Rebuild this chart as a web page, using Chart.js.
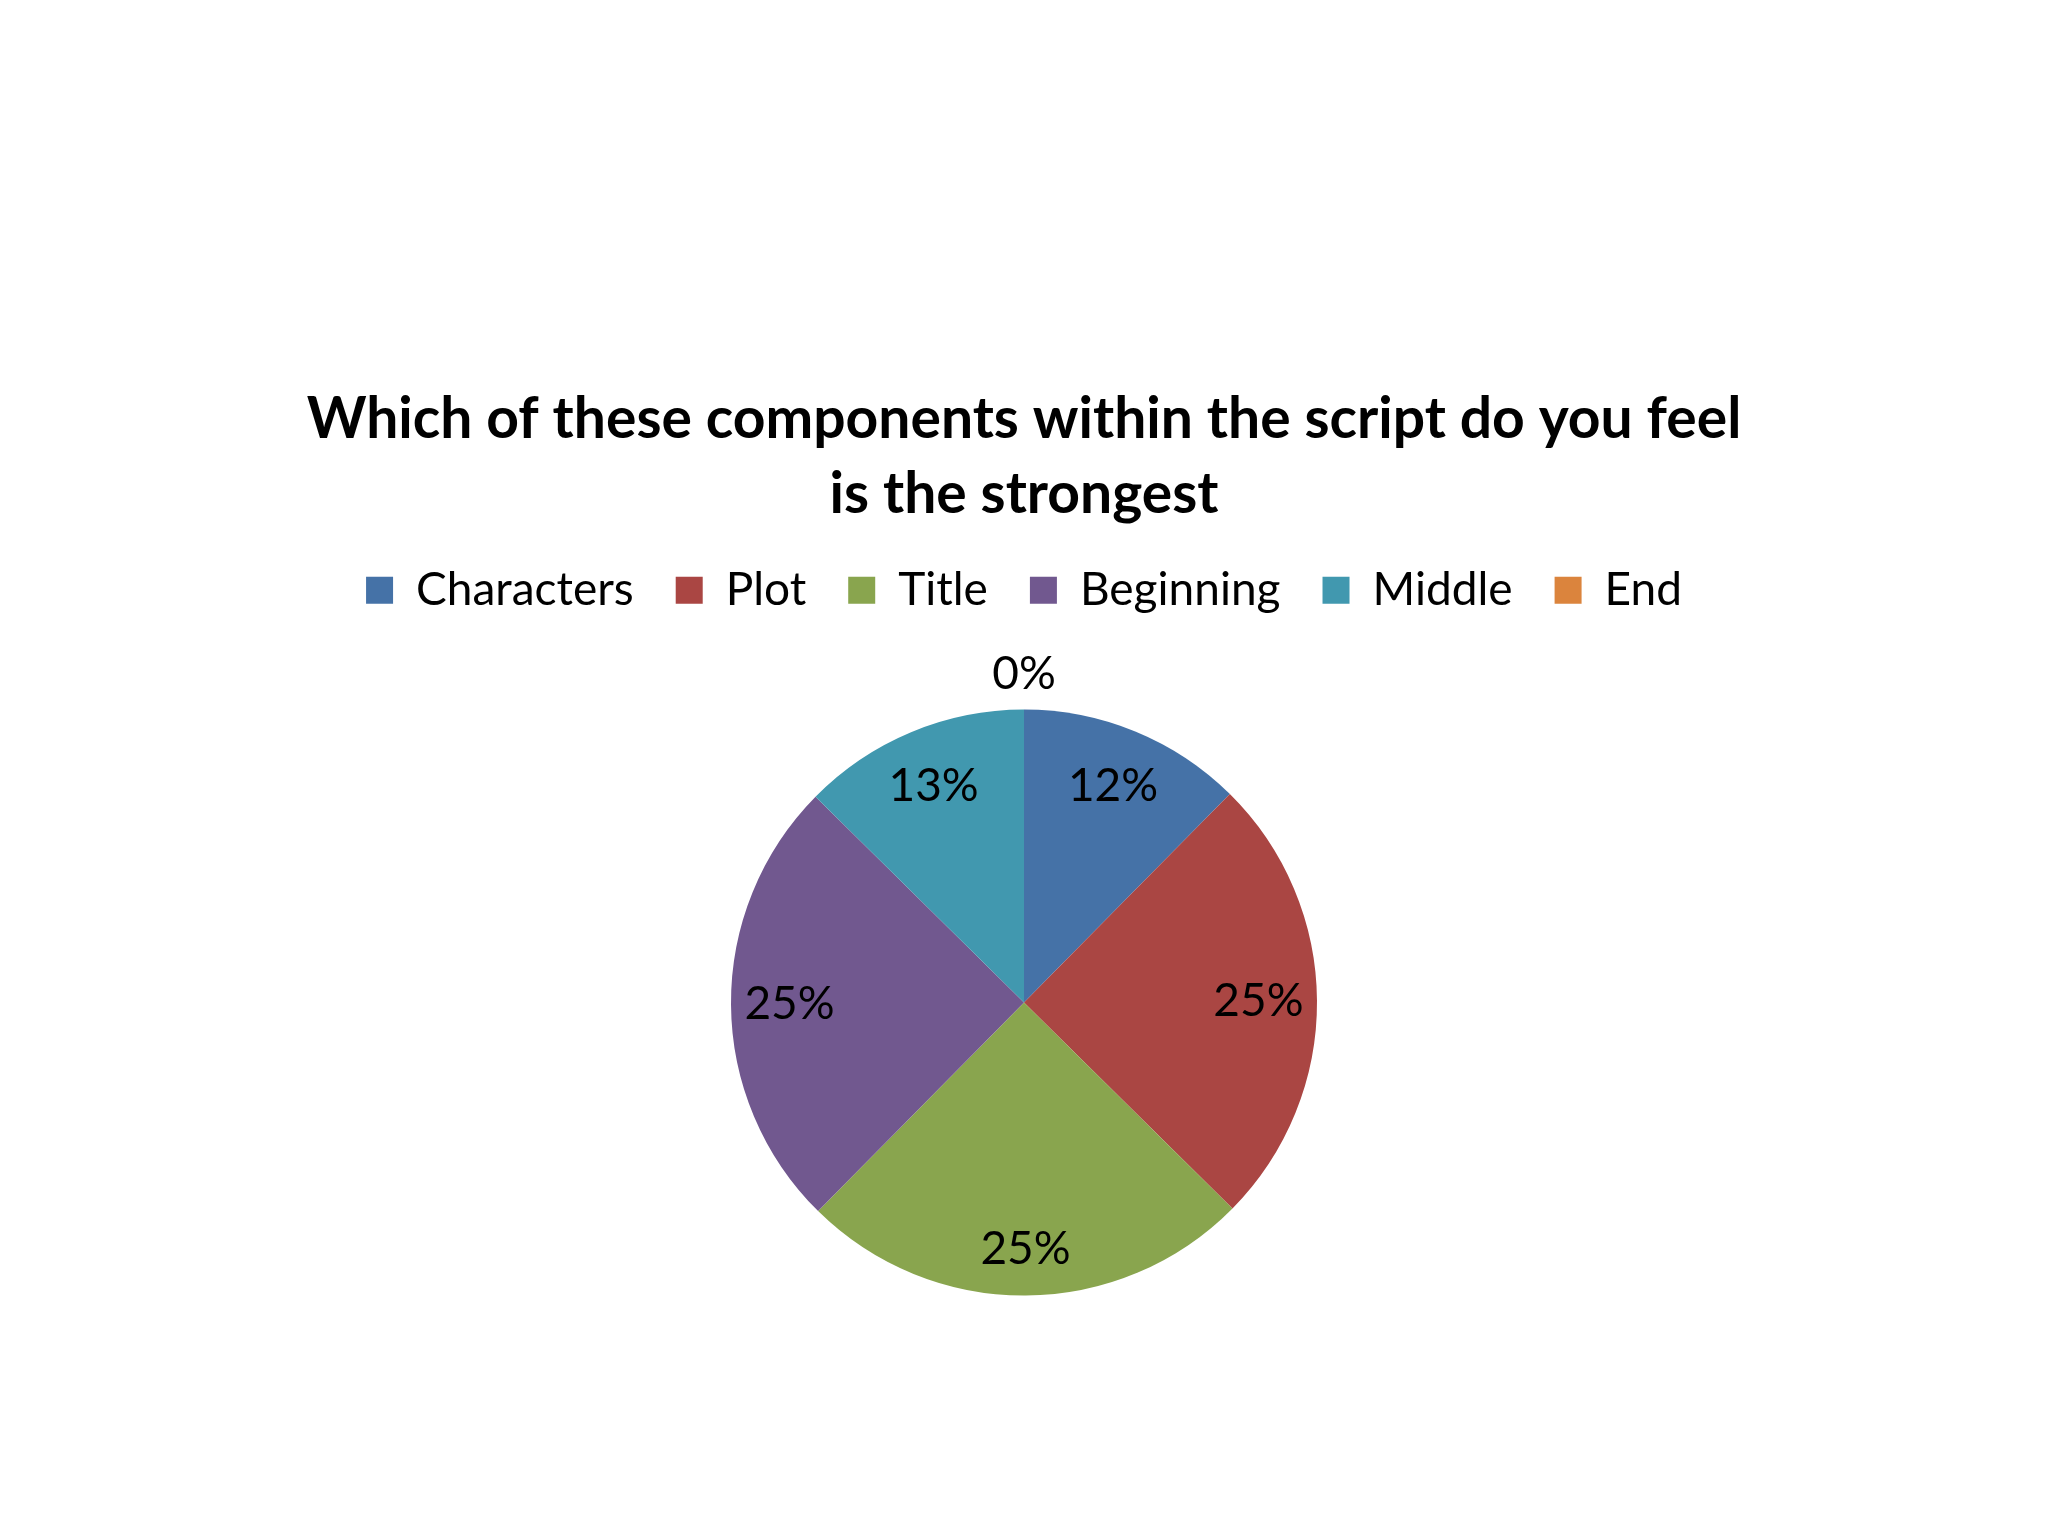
<!DOCTYPE html>
<html>
<head>
<meta charset="utf-8">
<script src="https://cdn.jsdelivr.net/npm/chart.js@4/dist/chart.umd.min.js"></script>
<style>
  html, body { margin: 0; padding: 0; background: #ffffff; }
  #wrap { width: 2048px; height: 1536px; }
</style>
</head>
<body>
<div id="wrap"><canvas id="grafico-pizza" width="2048" height="1536"></canvas></div>
<script>
const categorias = ['Characters', 'Plot', 'Title', 'Beginning', 'Middle', 'End'];
const valores = [12.4, 25, 25, 25, 12.6, 0];
const cores = ['#4572A7', '#AA4643', '#89A54E', '#71588F', '#4198AF', '#DB843D'];
const titulo = ['Which of these components within the script do you feel', 'is the strongest'];

const fonte = 'Lato, "Open Sans", sans-serif';

// rótulos de porcentagem dentro das fatias (ou fora, quando a fatia é zero)
const rotulosPizza = {
  id: 'rotulosPizza',
  afterDatasetsDraw(chart) {
    const ctx = chart.ctx;
    const meta = chart.getDatasetMeta(0);
    const total = valores.reduce((a, b) => a + b, 0);
    ctx.save();
    ctx.font = '46px ' + fonte;
    ctx.fillStyle = '#000000';
    ctx.textAlign = 'center';
    ctx.textBaseline = 'middle';
    meta.data.forEach((arc, i) => {
      const p = arc.getProps(['x', 'y', 'startAngle', 'endAngle', 'outerRadius'], true);
      const meio = (p.startAngle + p.endAngle) / 2;
      let r;
      if (valores[i] > 0) {
        r = p.outerRadius * (0.8 + 0.04 * Math.max(0, Math.sin(meio)));
      } else {
        r = p.outerRadius + 35;
      }
      const texto = Math.round(valores[i] / total * 100) + '%';
      ctx.fillText(texto, p.x + Math.cos(meio) * r, p.y + Math.sin(meio) * r);
    });
    ctx.restore();
  }
};

const ctxPizza = document.getElementById('grafico-pizza').getContext('2d');
new Chart(ctxPizza, {
  type: 'pie',
  data: {
    labels: categorias,
    datasets: [{
      data: valores,
      backgroundColor: cores,
      borderWidth: 0,
      radius: 293
    }]
  },
  options: {
    responsive: false,
    animation: false,
    layout: { padding: { top: 0, bottom: 154, left: 0, right: 0 } },
    plugins: {
      title: {
        display: true,
        text: titulo,
        color: '#000000',
        font: { family: fonte, size: 57, weight: 'bold', lineHeight: 1.3 },
        padding: { top: 383, bottom: -6 }
      },
      legend: {
        position: 'top',
        labels: {
          color: '#000000',
          font: { family: fonte, size: 46 },
          boxWidth: 27,
          boxHeight: 27,
          padding: 42
        }
      },
      tooltip: { enabled: false }
    }
  },
  plugins: [rotulosPizza]
});
</script>
</body>
</html>
